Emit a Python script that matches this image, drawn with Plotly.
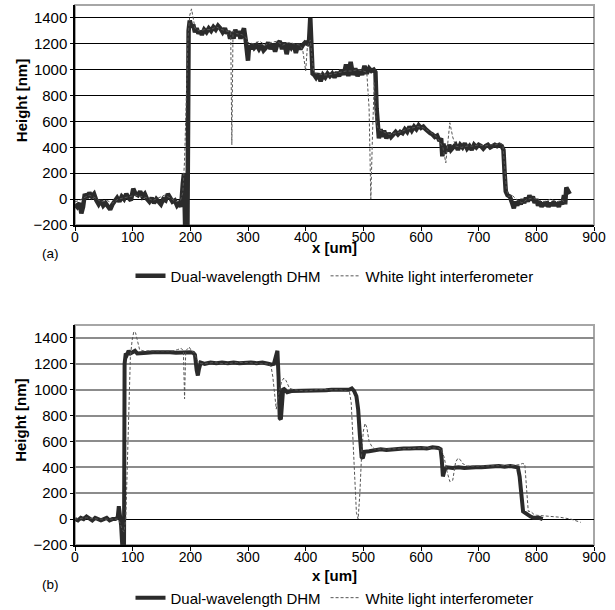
import plotly.graph_objects as go
from plotly.subplots import make_subplots

# ---- panel (a) ----
a_dhm_x = [0, 4, 8, 11, 14, 17, 21, 25, 29, 33, 37, 41, 45, 49, 53, 57, 61, 65, 69, 73,
           77, 81, 85, 89, 93, 97, 101, 105, 109, 113, 117, 121, 125, 129, 133, 137, 141, 145, 149, 153,
           157, 161, 165, 169, 173, 177, 181, 184, 187, 189, 191, 195, 197, 199, 202, 205, 208, 211, 214, 217,
           220, 224, 228, 232, 236, 240, 244, 248, 252, 256, 260, 263, 266, 269, 272, 275, 278, 281, 284, 287,
           290, 293, 296, 298, 300, 302, 305, 308, 311, 315, 319, 323, 327, 331, 335, 339, 343, 347, 351, 355,
           359, 363, 367, 371, 375, 379, 383, 387, 391, 395, 399, 403, 406, 408, 410, 412, 415, 418, 422, 426,
           430, 434, 438, 442, 446, 450, 454, 458, 462, 466, 470, 474, 478, 482, 486, 490, 494, 498, 502, 506,
           510, 514, 518, 521, 523, 525, 527, 530, 533, 536, 540, 544, 548, 552, 556, 560, 564, 568, 572, 576,
           580, 584, 588, 592, 596, 600, 604, 608, 612, 616, 620, 624, 628, 632, 635, 637, 639, 641, 643, 646,
           649, 652, 656, 660, 664, 668, 672, 676, 680, 684, 688, 692, 696, 700, 704, 708, 712, 716, 720, 724,
           728, 732, 736, 740, 743, 745, 747, 750, 754, 758, 761, 764, 767, 770, 773, 776, 779, 782, 785, 788,
           791, 794, 797, 800, 803, 806, 809, 812, 815, 818, 821, 824, 827, 830, 833, 836, 839, 842, 845, 848,
           850, 852, 855, 858]
a_dhm_y = [-40, -60, -30, -110, -60, 40, 10, 50, 20, 40, -10, -40, -10, -50, -30, -60, -80, -40, -10, 10,
           -20, 20, 0, 40, 10, -10, 80, 40, 30, 60, 20, 40, 0, -20, 10, -30, 0, -20, -40, 0,
           -10, 40, 10, -20, -10, -50, -30, -60, 120, 200, -210, -210, 1300, 1380, 1330, 1350, 1290, 1320, 1280, 1300,
           1270, 1310, 1290, 1320, 1300, 1330, 1310, 1340, 1320, 1290, 1320, 1280, 1300, 1240, 1290, 1240, 1310, 1260, 1300, 1240,
           1280, 1320, 1230, 1160, 1070, 1190, 1160, 1200, 1170, 1190, 1160, 1190, 1150, 1170, 1210, 1160, 1200, 1140, 1200, 1220,
           1160, 1210, 1120, 1200, 1170, 1200, 1130, 1200, 1160, 1190, 1210, 1200, 1230, 1400, 1200, 970, 960, 940, 970, 910,
           960, 940, 970, 950, 970, 940, 980, 950, 1000, 960, 1040, 950, 1060, 960, 1010, 950, 1000, 960, 1030, 970,
           1010, 990, 1000, 980, 700, 520, 470, 540, 480, 530, 470, 510, 480, 500, 520, 500, 520, 510, 540, 520,
           560, 530, 560, 540, 570, 550, 560, 540, 520, 510, 500, 480, 490, 450, 470, 330, 430, 350, 410, 370,
           420, 380, 400, 420, 380, 420, 400, 430, 390, 410, 380, 420, 400, 420, 410, 390, 410, 420, 400, 410,
           420, 410, 420, 410, 380, 200, 60, 30, 20, -30, -70, -20, -50, -10, -40, 0, -30, 10, -20, 30,
           -10, 20, -30, 0, -50, -20, -60, -30, -50, -20, -60, -30, -50, -20, -50, -30, -60, -20, -40, 30,
           -40, 90, 60, 40]

a_wli_x = [0, 8, 15, 25, 35, 45, 55, 65, 75, 85, 95, 105, 115, 125, 135, 145, 155, 165, 175, 183,
           187, 190, 193, 196, 199, 202, 205, 208, 215, 225, 235, 245, 255, 265, 270, 272, 274, 280, 290, 296,
           300, 310, 320, 330, 340, 350, 360, 370, 380, 390, 395, 400, 403, 408, 411, 414, 420, 430, 440, 450,
           460, 470, 480, 490, 500, 506, 510, 513, 516, 519, 522, 526, 535, 545, 555, 565, 575, 585, 595, 605,
           615, 625, 632, 638, 643, 650, 655, 660, 670, 680, 690, 700, 710, 720, 730, 738, 742, 745, 748, 752,
           758, 765, 775, 785, 795, 805, 815, 825, 835, 845, 852]
a_wli_y = [-20, -10, 10, 30, 10, -20, -10, -30, 0, 10, 20, 30, 20, 10, -10, 10, 30, 10, -20, -10,
           50, 300, 800, 1250, 1420, 1470, 1400, 1320, 1300, 1310, 1310, 1330, 1310, 1300, 1290, 420, 1300, 1280, 1270, 1250,
           1210, 1200, 1220, 1190, 1210, 1220, 1190, 1210, 1200, 1190, 1150, 990, 1180, 1230, 1100, 980, 970, 960, 960, 970,
           980, 990, 990, 1000, 990, 980, 700, 0, 520, 900, 600, 540, 520, 500, 510, 520, 540, 550, 560, 550,
           520, 490, 450, 400, 280, 590, 480, 410, 400, 410, 410, 420, 410, 420, 420, 430, 420, 250, 80, 20,
           30, 0, -30, 0, 10, -10, -20, 0, -20, -10, -30]

# ---- panel (b) ----
b_dhm_x = [0, 5, 10, 15, 20, 25, 30, 35, 40, 45, 50, 55, 60, 65, 70, 74, 76, 78, 80, 82,
           85, 86, 88, 90, 93, 96, 100, 104, 108, 115, 125, 135, 145, 155, 165, 175, 185, 195, 200, 205,
           208, 211, 213, 215, 218, 225, 235, 245, 255, 265, 275, 285, 295, 305, 315, 325, 335, 340, 345, 348,
           351, 353, 355, 357, 359, 361, 364, 368, 375, 385, 395, 405, 415, 425, 435, 445, 455, 465, 475, 480,
           484, 488, 491, 494, 497, 499, 502, 510, 520, 530, 540, 550, 560, 570, 580, 590, 600, 610, 620, 630,
           634, 636, 638, 641, 645, 655, 665, 675, 685, 695, 705, 715, 725, 735, 745, 755, 762, 768, 771, 774,
           777, 780, 785, 790, 795, 800, 805, 811]
b_dhm_y = [0, -10, 10, 0, 20, 0, -10, 10, 0, -10, 0, 10, -10, 0, 0, 10, 100, 30, -50, -210,
           -210, 1200, 1280, 1270, 1300, 1280, 1290, 1300, 1280, 1285, 1285, 1290, 1290, 1295, 1290, 1285, 1290, 1290, 1290, 1285,
           1270, 1150, 1110, 1160, 1210, 1200, 1210, 1205, 1210, 1205, 1210, 1205, 1210, 1210, 1205, 1210, 1200, 1195, 1200, 1250,
           1300, 1100, 780, 770, 960, 1010, 1000, 980, 990, 990, 995, 990, 995, 995, 995, 1000, 1000, 1000, 1000, 1010,
           990, 950, 850, 650, 480, 470, 520, 525, 530, 540, 535, 540, 540, 545, 545, 550, 550, 545, 555, 550,
           540, 460, 330, 380, 400, 395, 400, 395, 400, 400, 400, 405, 405, 410, 405, 410, 405, 400, 330, 150,
           60, 50, 30, 20, 10, 10, 10, 0]

b_wli_x = [0, 20, 40, 60, 75, 78, 82, 85, 88, 90, 93, 96, 99, 102, 105, 108, 112, 118, 130, 150,
           170, 178, 184, 188, 190, 192, 195, 198, 202, 206, 210, 214, 220, 240, 260, 280, 300, 320, 335, 340,
           343, 346, 349, 353, 358, 362, 366, 372, 380, 400, 420, 440, 460, 470, 476, 479, 482, 485, 488, 491,
           494, 497, 500, 503, 506, 510, 515, 520, 540, 560, 580, 600, 620, 630, 635, 640, 645, 650, 655, 660,
           664, 668, 672, 680, 700, 720, 740, 760, 770, 776, 780, 783, 786, 790, 795, 800, 820, 840, 860, 877]
b_wli_y = [0, 10, 0, 0, 0, -30, -80, -100, 0, 300, 900, 1250, 1380, 1450, 1440, 1380, 1310, 1300, 1300, 1300,
           1300, 1310, 1320, 1300, 930, 1300, 1320, 1330, 1300, 1290, 1250, 1210, 1200, 1210, 1200, 1210, 1210, 1200, 1200, 1180,
           1100, 950, 850, 960, 1060, 1090, 1070, 1010, 1000, 990, 1000, 1000, 1000, 990, 980, 900, 600, 300, 50, 0,
           200, 500, 680, 740, 710, 600, 560, 540, 540, 540, 545, 550, 550, 550, 540, 480, 370, 290, 300, 440,
           470, 460, 430, 410, 410, 410, 410, 415, 420, 430, 425, 250, 60, 60, 40, 30, 25, 15, 0, -25]

y_ticks = [-200, 0, 200, 400, 600, 800, 1000, 1200, 1400]
x_ticks = [0, 100, 200, 300, 400, 500, 600, 700, 800, 900]

FONT = "Liberation Sans, Arial, sans-serif"

fig = make_subplots(rows=2, cols=1)

panels = [
    (a_dhm_x, a_dhm_y, a_wli_x, a_wli_y, "legend"),
    (b_dhm_x, b_dhm_y, b_wli_x, b_wli_y, "legend2"),
]
for i, (dx, dy, wx, wy, leg) in enumerate(panels, start=1):
    fig.add_trace(go.Scatter(x=dx, y=dy, mode="lines", name="Dual-wavelength DHM",
                             line=dict(color="#2b2b2b", width=4.5 if i == 1 else 4), legend=leg),
                  row=i, col=1)
    fig.add_trace(go.Scatter(x=wx, y=wy, mode="lines", name="White light interferometer",
                             line=dict(color="#555555", width=1, dash="3px,2px"), legend=leg),
                  row=i, col=1)
    fig.add_shape(type="rect", xref="x%s domain" % ("" if i == 1 else i),
                  yref="y%s domain" % ("" if i == 1 else i),
                  x0=0, x1=1, y0=0, y1=1, line=dict(color="#a6a6a6", width=2), layer="below")

fig.update_xaxes(range=[0, 900], tickvals=x_ticks, showgrid=False, zeroline=False,
                 showline=True, linecolor="black", linewidth=1.5,
                 ticks="outside", ticklen=4, tickcolor="black", ticklabelstandoff=-6,
                 tickfont=dict(size=14, color="black"))
fig.update_yaxes(range=[-200, 1500], tickvals=y_ticks, showgrid=True, gridwidth=1,
                 zeroline=False, showline=True, linecolor="black", linewidth=1.5,
                 ticks="outside", ticklen=3, tickcolor="black",
                 tickfont=dict(size=15, color="black"))
fig.update_yaxes(gridcolor="black", row=1, col=1)
fig.update_yaxes(gridcolor="#8c8c8c", gridwidth=1.5, zeroline=True, zerolinecolor="black",
                 zerolinewidth=1, row=2, col=1)
fig.add_hline(y=200, line=dict(color="black", width=1), layer="below", row=2, col=1)

# panel letter y, x-title y, y-title y (paper coords)
labels = [("(a)", 0.539, 0.551, 0.822), ("(b)", -0.074, -0.0556, 0.230)]
annotations = []
for text, ly, ty, hy in labels:
    common = dict(xref="paper", yref="paper", showarrow=False, xanchor="center", yanchor="middle")
    annotations.append(dict(text=text, x=-0.048, y=ly, font=dict(size=13.5), **common))
    annotations.append(dict(text="<b>x [um]</b>", x=0.5, y=ty, font=dict(size=15), **common))
    annotations.append(dict(text="<b>Height [nm]</b>", x=-0.104, y=hy, textangle=-90,
                            font=dict(size=15), **common))

fig.update_layout(
    width=615, height=610,
    margin=dict(l=75, r=21, t=5, b=65, autoexpand=False),
    paper_bgcolor="white", plot_bgcolor="white",
    font=dict(family=FONT, color="black"),
    yaxis=dict(domain=[0.5926, 1.0]),
    yaxis2=dict(domain=[0.0, 0.4074]),
    legend=dict(orientation="h", x=0.5, xanchor="center", y=0.498, yanchor="middle",
                font=dict(size=15), itemwidth=30, tracegroupgap=0),
    legend2=dict(orientation="h", x=0.5, xanchor="center", y=-0.098, yanchor="middle",
                 font=dict(size=15), itemwidth=30, tracegroupgap=0),
    annotations=annotations,
)

fig.write_html("out.html", config={"displayModeBar": False},
               post_script="document.body.style.margin='0';")
